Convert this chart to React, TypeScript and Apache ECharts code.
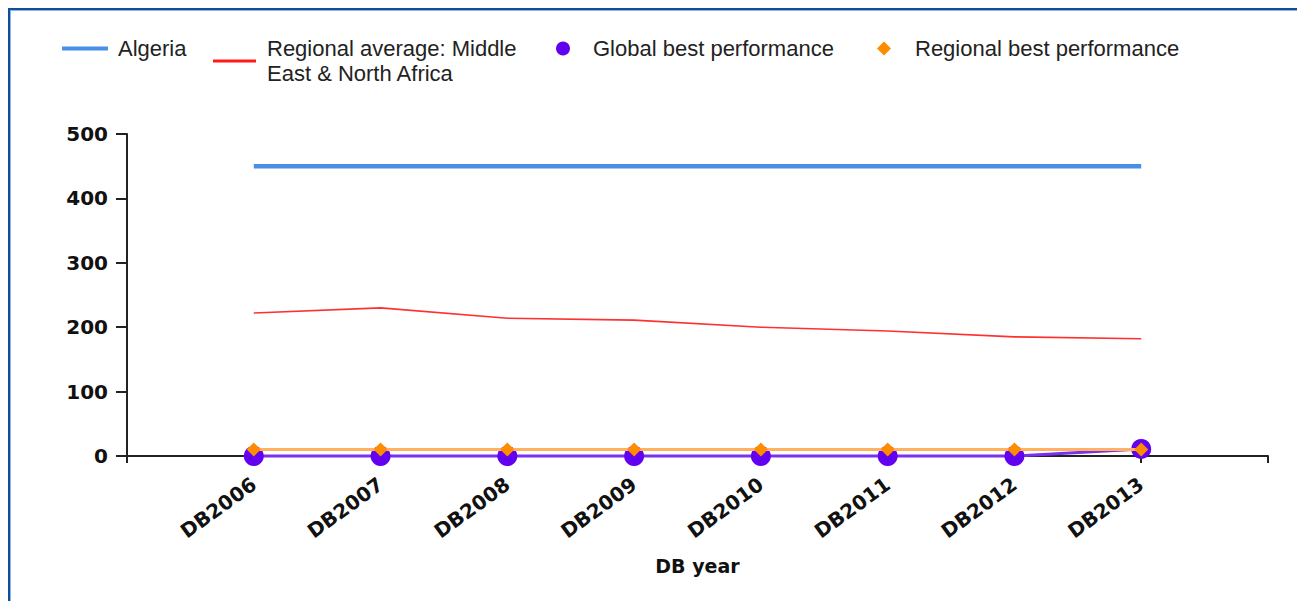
import React, { useEffect, useRef } from "react";
import * as echarts from "echarts";

const categories = ["", "DB2006", "DB2007", "DB2008", "DB2009", "DB2010", "DB2011", "DB2012", "DB2013", ""];
const algeria = [null, 450, 450, 450, 450, 450, 450, 450, 450, null];
const regionalAverage = [null, 222, 230, 214, 211, 200, 194, 185, 182, null];
const globalBest = [null, 0, 0, 0, 0, 0, 0, 0, 11, null];
const regionalBest = [null, 10, 10, 10, 10, 10, 10, 10, 10, null];
const yTicks = { min: 0, max: 500, interval: 100 };

const NAMES = [
  "Algeria",
  "Regional average: Middle\nEast & North Africa",
  "Global best performance",
  "Regional best performance",
];

const legendText = (pad: number) => ({
  fontFamily: "'Liberation Sans', Arial, sans-serif",
  fontSize: 22,
  lineHeight: 25,
  color: "#222",
  padding: [0, 0, 0, pad],
});

export default function App() {
  const ref = useRef<HTMLDivElement>(null);
  useEffect(() => {
    if (!ref.current) return;
    const chart = echarts.init(ref.current, null, { renderer: "svg" });
    const axisFont = { fontFamily: "'DejaVu Sans', Verdana, sans-serif", fontWeight: "bold" as const, fontSize: 20, color: "#111" };
    chart.setOption({
      animation: false,
      backgroundColor: "#fff",
      grid: { left: 119, right: 37, top: 126, bottom: 145, containLabel: false },
      legend: [
        {
          data: [NAMES[0]], left: 54, top: 28, padding: 0, icon: "rect",
          itemWidth: 46, itemHeight: 4, textStyle: legendText(5), selectedMode: false,
        },
        {
          data: [NAMES[1]], left: 205, top: 28, padding: 0, icon: "rect",
          itemWidth: 43, itemHeight: 3, textStyle: legendText(6), selectedMode: false,
        },
        {
          data: [NAMES[2]], left: 548, top: 28, padding: 0, icon: "circle",
          itemWidth: 14, itemHeight: 14, textStyle: legendText(18), selectedMode: false,
        },
        {
          data: [NAMES[3]], left: 869, top: 28, padding: 0, icon: "diamond",
          itemWidth: 14, itemHeight: 14, textStyle: legendText(19), selectedMode: false,
        },
      ],
      xAxis: {
        type: "category",
        data: categories,
        boundaryGap: false,
        name: "DB year",
        nameLocation: "middle",
        nameGap: 100,
        nameTextStyle: { ...axisFont, fontSize: 19 },
        axisLine: { onZero: true, lineStyle: { color: "#222", width: 2 } },
        axisTick: { show: true, interval: 0, length: 7, lineStyle: { color: "#222", width: 2 } },
        axisLabel: { ...axisFont, interval: 0, rotate: 36, margin: 26 },
        splitLine: { show: false },
      },
      yAxis: {
        type: "value",
        min: yTicks.min,
        max: yTicks.max,
        interval: yTicks.interval,
        axisLine: { show: true, lineStyle: { color: "#222", width: 2 } },
        axisTick: { show: true, length: 11, lineStyle: { color: "#222", width: 2 } },
        axisLabel: { ...axisFont, margin: 19 },
        splitLine: { show: false },
      },
      series: [
        {
          name: NAMES[0], type: "line", data: algeria, showSymbol: false, clip: false,
          color: "#4a8fe6", lineStyle: { color: "#4a8fe6", width: 4.5 }, z: 3,
        },
        {
          name: NAMES[1], type: "line", data: regionalAverage, showSymbol: false, clip: false,
          color: "#ff1a1a", lineStyle: { color: "#ff3030", width: 1.6 }, z: 3,
        },
        {
          name: NAMES[2], type: "line", data: globalBest, symbol: "circle", symbolSize: 20, clip: false,
          color: "#6200f0", itemStyle: { color: "#6200f0" }, lineStyle: { color: "#7a30f0", width: 3 }, z: 4,
        },
        {
          name: NAMES[3], type: "line", data: regionalBest, symbol: "diamond", symbolSize: 14, clip: false,
          color: "#ff8c00", itemStyle: { color: "#ff8c00" }, lineStyle: { color: "#ffb060", width: 3 }, z: 5,
        },
      ],
    });
    return () => chart.dispose();
  }, []);

  return (
    <div style={{ position: "relative", width: 1297, height: 593 }}>
      <div ref={ref} style={{ position: "absolute", left: 0, top: 0, width: 1297, height: 593 }} />
      <div
        style={{
          position: "absolute", left: 0, top: 0, width: 1297, height: 593, boxSizing: "border-box",
          borderLeft: "2px solid #0d4f98", borderTop: "2px solid #0d4f98",
          boxShadow: "inset 1px 1px 0 #8db4e0", pointerEvents: "none",
        }}
      />
    </div>
  );
}
